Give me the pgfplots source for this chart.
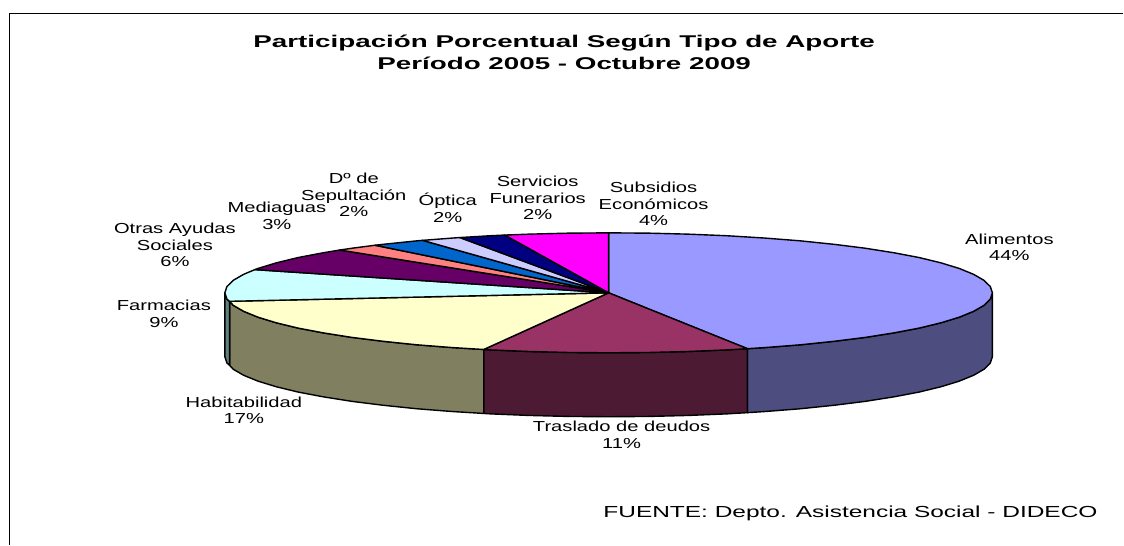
\documentclass[border=0pt]{standalone}
\usepackage{pgfplots}
\pgfplotsset{compat=1.18}
\usepackage{fontspec}
\setmainfont[FakeStretch=1.39]{Liberation Sans}
\newcommand{\lab}[3]{\node[align=center,font=\fontsize{14.5}{16.5}\selectfont,inner sep=0pt] at (axis cs:#1,#2) {#3};}
\begin{document}
\begin{tikzpicture}
\begin{axis}[
  width=1124pt,height=545pt,scale only axis,
  xmin=0,xmax=1124,ymin=0,ymax=545,y dir=reverse,
  hide axis,clip=false,
  every axis plot/.append style={draw=black,line width=1.4pt,line join=round,mark=none}]
\addplot[draw=none,forget plot] coordinates {(0,0)(1124,545)};
% frame
\addplot[line width=1.4pt] coordinates {(9.5,545)(9.5,13.5)(1124,13.5)};
% sides
\addplot[fill={rgb,255:red,77;green,77;blue,128}] coordinates {(993,293)(990.9,299.3)(984.6,305.5)(974.2,311.5)(959.8,317.4)(941.5,323)(919.7,328.3)(894.4,333.1)(865.9,337.6)(834.7,341.5)(801,345)(765.2,347.8)(747.9,348.9)
 (747.9,412.9)(765.2,411.8)(801,409)(834.7,405.5)(865.9,401.6)(894.4,397.1)(919.7,392.3)(941.5,387)(959.8,381.4)(974.2,375.5)(984.6,369.5)(990.9,363.3)(993,357)} --cycle;
\addplot[fill={rgb,255:red,77;green,26;blue,51}] coordinates {(747.9,348.9)(727.7,350.1)(688.8,351.7)(649.1,352.7)(609,353)(568.9,352.7)(529.2,351.7)(490.3,350.1)(484,349.7)
 (484,413.7)(490.3,414.1)(529.2,415.7)(568.9,416.7)(609,417)(649.1,416.7)(688.8,415.7)(727.7,414.1)(747.9,412.9)} --cycle;
\addplot[fill={rgb,255:red,128;green,128;blue,96}] coordinates {(484,349.7)(452.8,347.8)(417,345)(383.3,341.5)(352.1,337.6)(323.6,333.1)(298.3,328.3)(276.5,323)(258.2,317.4)(243.8,311.5)(233.4,305.5)(229.7,301.5)
 (229.7,365.5)(233.4,369.5)(243.8,375.5)(258.2,381.4)(276.5,387)(298.3,392.3)(323.6,397.1)(352.1,401.6)(383.3,405.5)(417,409)(452.8,411.8)(484,413.7)} --cycle;
\addplot[fill={rgb,255:red,96;green,128;blue,128}] coordinates {(229.7,301.5)(227.1,299.3)(225,293)(225,357)(227.1,363.3)(229.7,365.5)} --cycle;
% top faces
\addplot[fill={rgb,255:red,153;green,153;blue,255}] coordinates {(609,293)(609,233)(649.1,233.3)(688.8,234.3)(727.7,235.9)(765.2,238.2)(801,241)(834.7,244.5)(865.9,248.4)(894.4,252.9)(919.7,257.7)(941.5,263)(959.8,268.6)(974.2,274.5)(984.6,280.5)(990.9,286.7)(993,293)(990.9,299.3)(984.6,305.5)(974.2,311.5)(959.8,317.4)(941.5,323)(919.7,328.3)(894.4,333.1)(865.9,337.6)(834.7,341.5)(801,345)(765.2,347.8)(747.9,348.9)} --cycle;
\addplot[fill={rgb,255:red,153;green,51;blue,102}] coordinates {(609,293)(747.9,348.9)(727.7,350.1)(688.8,351.7)(649.1,352.7)(609,353)(568.9,352.7)(529.2,351.7)(490.3,350.1)(484,349.7)} --cycle;
\addplot[fill={rgb,255:red,255;green,255;blue,204}] coordinates {(609,293)(484,349.7)(452.8,347.8)(417,345)(383.3,341.5)(352.1,337.6)(323.6,333.1)(298.3,328.3)(276.5,323)(258.2,317.4)(243.8,311.5)(233.4,305.5)(229.7,301.5)} --cycle;
\addplot[fill={rgb,255:red,204;green,255;blue,255}] coordinates {(609,293)(229.7,301.5)(227.1,299.3)(225,293)(227.1,286.7)(233.4,280.5)(243.8,274.5)(255,269.8)} --cycle;
\addplot[fill={rgb,255:red,102;green,0;blue,102}] coordinates {(609,293)(255,269.8)(258.2,268.6)(276.5,263)(298.3,257.7)(323.6,252.9)(339.9,250.2)} --cycle;
\addplot[fill={rgb,255:red,255;green,128;blue,128}] coordinates {(609,293)(339.9,250.2)(352.1,248.4)(375.2,245.4)} --cycle;
\addplot[fill={rgb,255:red,0;green,102;blue,204}] coordinates {(609,293)(375.2,245.4)(383.3,244.5)(417,241)(422.8,240.5)} --cycle;
\addplot[fill={rgb,255:red,204;green,204;blue,255}] coordinates {(609,293)(422.8,240.5)(452.8,238.2)(460.2,237.7)} --cycle;
\addplot[fill={rgb,255:red,0;green,0;blue,128}] coordinates {(609,293)(460.2,237.7)(490.3,235.9)(505.1,235.2)} --cycle;
\addplot[fill={rgb,255:red,255;green,0;blue,255}] coordinates {(609,293)(505.1,235.2)(529.2,234.3)(568.9,233.3)(609,233)} --cycle;
% texts
\node[align=center,font=\fontsize{17}{22}\selectfont\bfseries,inner sep=0pt] at (axis cs:564.5,52) {\scalebox{1.176}[1]{Participación Porcentual Según Tipo de Aporte}\\\scalebox{1.176}[1]{Período 2005 - Octubre 2009}};
\lab{1010}{247.5}{Alimentos\\44\%}
\lab{622}{435}{Traslado de deudos\\11\%}
\lab{244}{410.5}{Habitabilidad\\17\%}
\lab{164}{314}{Farmacias\\9\%}
\lab{175}{245}{Otras Ayudas\\Sociales\\6\%}
\lab{277}{216}{Mediaguas\\3\%}
\lab{354}{195}{Dº de\\Sepultación\\2\%}
\lab{448}{208}{Óptica\\2\%}
\lab{538}{198}{Servicios\\Funerarios\\2\%}
\lab{654}{204}{Subsidios\\Económicos\\4\%}
\node[font=\fontsize{16}{18}\selectfont,inner sep=0pt] at (axis cs:851,514) {\scalebox{1.1}[1]{FUENTE: Depto. Asistencia Social - DIDECO}};
\end{axis}
\end{tikzpicture}
\end{document}
